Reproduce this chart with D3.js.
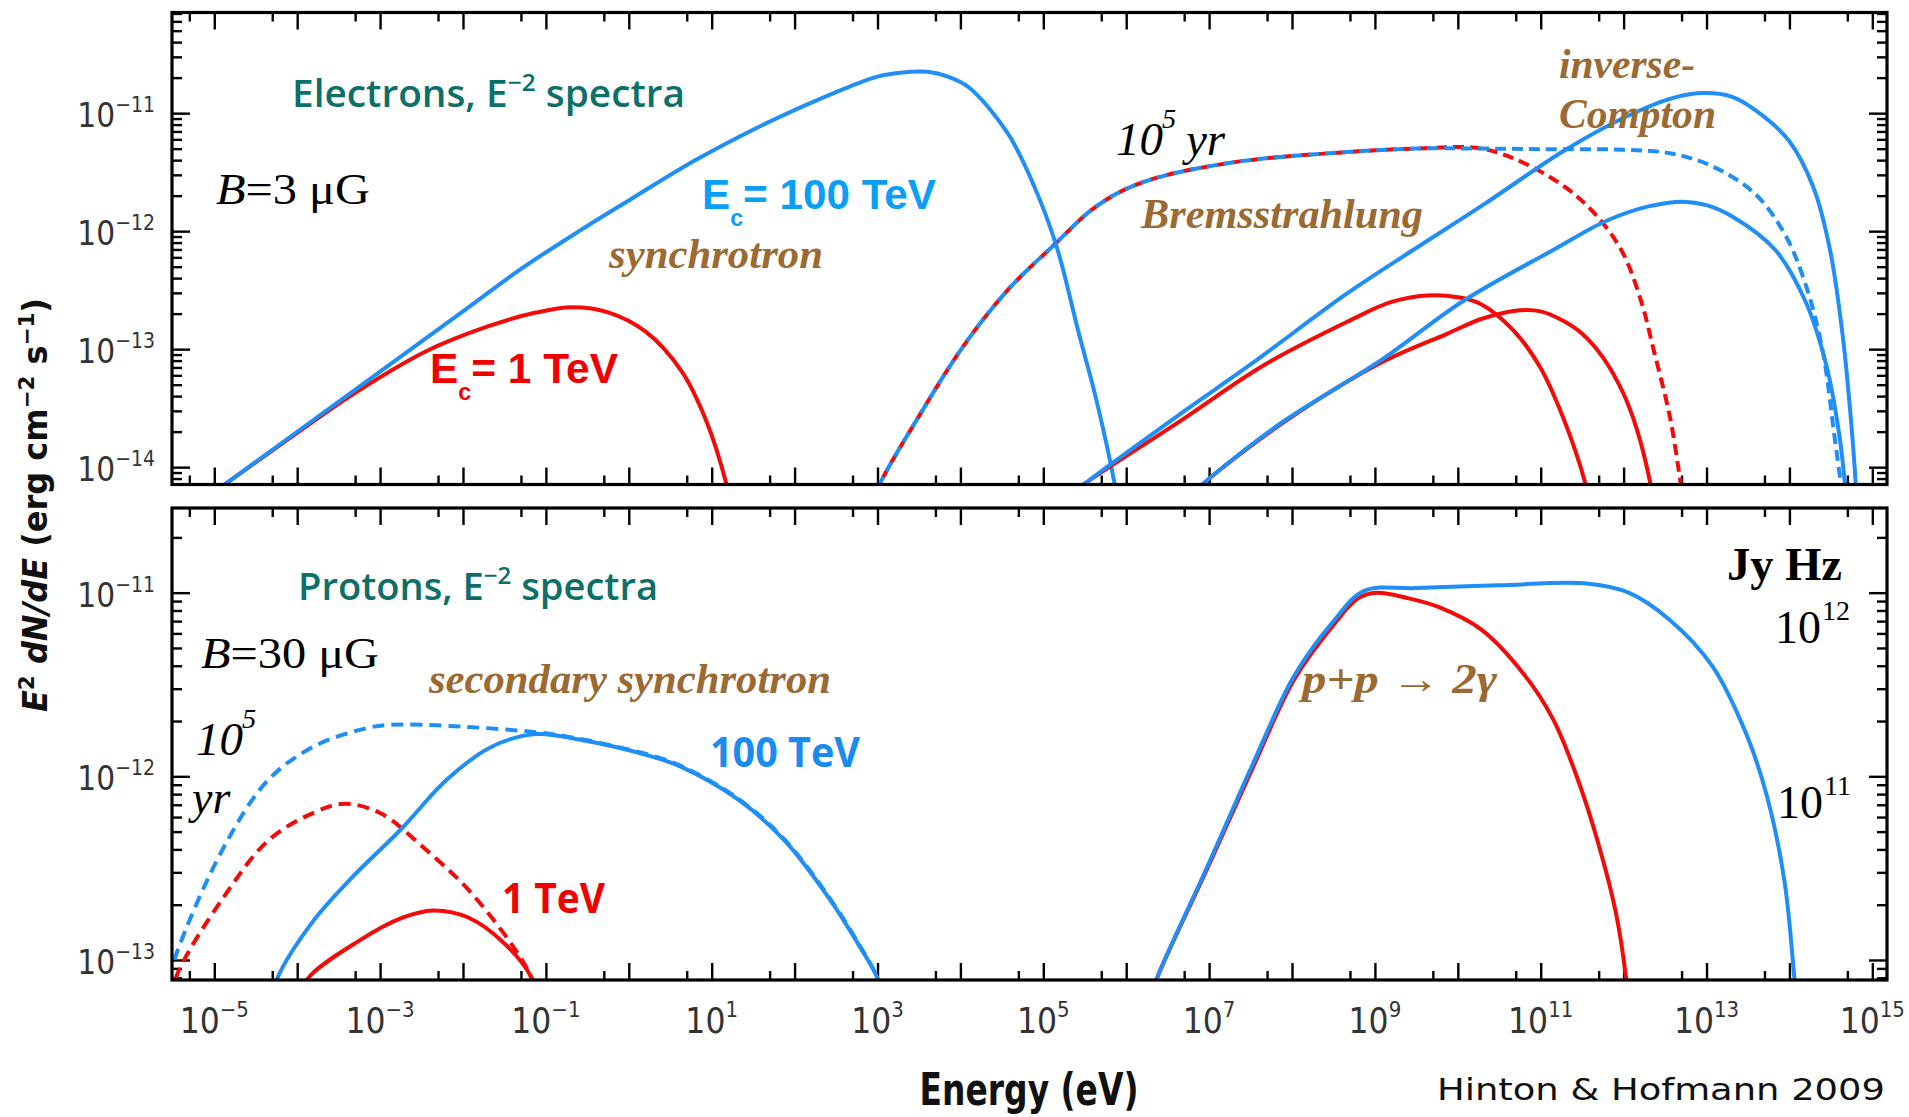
<!DOCTYPE html>
<html><head><meta charset="utf-8">
<script src="https://cdn.jsdelivr.net/npm/d3@7"></script>
<style>body{margin:0;background:#fff}</style>
</head><body>
<svg id="c" width="1909" height="1117" xmlns="http://www.w3.org/2000/svg"></svg>
<script>
// ---------- data: [log10(E / eV), log10(E^2 dN/dE / erg cm^-2 s^-1)] ----------
const xTickExponents = [-5,-3,-1,1,3,5,7,9,11,13,15];
const topYTickExponents = [-11,-12,-13,-14];
const botYTickExponents = [-11,-12,-13];
const rightTickLabels = ["12","11"];

// top panel: electrons
const elSync100TeV = [[-5.0,-14.21],[-4.86,-14.14],[-4.0,-13.70],[-3.0,-13.19],[-2.0,-12.68],[-1.3,-12.32],[-0.6,-12.0],[0.0,-11.74],[0.8,-11.40],[1.5,-11.14],[2.14,-10.93],[2.68,-10.77],[3.0,-10.69],[3.3,-10.655],[3.6,-10.65],[3.85,-10.69],[4.1,-10.78],[4.57,-11.17],[4.89,-11.62],[5.16,-12.13],[5.43,-12.87],[5.64,-13.43],[5.86,-14.14],[5.92,-14.4]];
const elSync1TeV = [[-5.0,-14.21],[-4.0,-13.71],[-3.3,-13.37],[-2.45,-13.02],[-1.71,-12.81],[-1.12,-12.69],[-0.68,-12.645],[-0.24,-12.69],[0.2,-12.85],[0.64,-13.19],[0.93,-13.6],[1.18,-14.15],[1.25,-14.4]];
const bremsShared = [[2.95,-14.3],[3.03,-14.14],[3.49,-13.58],[4.03,-12.98],[4.57,-12.50],[5.11,-12.13],[5.64,-11.79],[6.18,-11.59],[7.26,-11.42],[8.66,-11.33],[9.5,-11.30],[10.28,-11.30]];
const brems1TeVTail = [[10.79,-11.42],[11.3,-11.63],[11.65,-11.85],[11.98,-12.17],[12.21,-12.59],[12.36,-13.0],[12.56,-13.58],[12.68,-14.1],[12.72,-14.3]];
const brems100TeVTail = [[11.0,-11.305],[12.0,-11.31],[12.56,-11.34],[13.07,-11.45],[13.58,-11.68],[13.94,-12.02],[14.19,-12.44],[14.4,-13.01],[14.54,-13.72],[14.62,-14.14],[14.65,-14.3]];
const icA100TeV = [[5.4,-14.2],[5.5,-14.14],[6.65,-13.55],[7.5,-13.13],[8.66,-12.53],[9.46,-12.16],[10.3,-11.78],[11.3,-11.31],[12.06,-11.02],[12.6,-10.87],[12.97,-10.83],[13.3,-10.86],[13.58,-10.97],[13.99,-11.23],[14.29,-11.63],[14.49,-12.16],[14.64,-12.87],[14.74,-13.58],[14.80,-14.14],[14.82,-14.4]];
const icA1TeV = [[5.4,-14.2],[5.5,-14.14],[6.65,-13.61],[7.65,-13.14],[8.66,-12.77],[9.2,-12.60],[9.63,-12.545],[10.0,-12.56],[10.27,-12.615],[10.67,-12.84],[10.99,-13.15],[11.27,-13.58],[11.535,-14.13],[11.6,-14.35]];
const icB100TeV = [[6.85,-14.2],[6.93,-14.14],[7.86,-13.63],[9.06,-13.10],[10.07,-12.59],[11.15,-12.16],[11.8,-11.91],[12.3,-11.79],[12.72,-11.75],[13.0,-11.78],[13.32,-11.88],[13.83,-12.16],[14.19,-12.59],[14.45,-13.15],[14.60,-13.72],[14.67,-14.14],[14.7,-14.4]];
const icB1TeV = [[6.85,-14.2],[6.93,-14.14],[7.86,-13.64],[9.06,-13.12],[9.87,-12.87],[10.3,-12.74],[10.75,-12.67],[11.0,-12.68],[11.27,-12.76],[11.5,-12.87],[11.75,-13.07],[12.0,-13.38],[12.16,-13.68],[12.32,-14.13],[12.37,-14.35]];

// bottom panel: protons
const secSync100TeVOld = [[-5.6,-13.2],[-5.46,-12.97],[-4.89,-12.39],[-4.35,-12.02],[-3.81,-11.84],[-3.27,-11.75],[-2.9,-11.72],[-2.0,-11.73],[-1.12,-11.76],[-0.6,-11.795],[0.26,-11.885],[0.64,-11.945],[1.33,-12.125],[1.88,-12.345],[2.41,-12.655],[2.79,-12.925],[3.0,-13.1],[3.05,-13.2]];
const secSync100TeV = [[-4.35,-13.3],[-4.24,-13.1],[-3.81,-12.79],[-3.38,-12.57],[-2.73,-12.28],[-2.2,-12.02],[-1.66,-11.84],[-1.12,-11.77],[-0.6,-11.80],[0.26,-11.89],[0.64,-11.95],[1.33,-12.13],[1.88,-12.35],[2.41,-12.66],[2.79,-12.93],[3.0,-13.1],[3.05,-13.2]];
const secSync1TeVOld = [[-5.6,-13.3],[-5.43,-13.06],[-4.89,-12.66],[-4.35,-12.35],[-3.81,-12.2],[-3.43,-12.15],[-3.0,-12.2],[-2.47,-12.39],[-1.93,-12.62],[-1.39,-12.93],[-1.17,-13.1],[-1.1,-13.2]];
const secSync1TeV = [[-3.95,-13.2],[-3.87,-13.1],[-3.27,-12.9],[-2.73,-12.77],[-2.36,-12.73],[-1.93,-12.77],[-1.5,-12.91],[-1.17,-13.1],[-1.12,-13.2]];
const pp100TeV = [[6.3,-13.2],[6.37,-13.1],[6.99,-12.48],[7.53,-11.93],[8.03,-11.45],[8.51,-11.15],[8.87,-10.99],[9.5,-10.975],[10.5,-10.96],[11.55,-10.95],[12.06,-11.0],[12.56,-11.15],[13.07,-11.4],[13.48,-11.77],[13.73,-12.11],[13.94,-12.57],[14.06,-13.1],[14.09,-13.25]];
const pp1TeV = [[6.3,-13.2],[6.37,-13.1],[6.99,-12.49],[7.53,-11.95],[8.03,-11.47],[8.51,-11.17],[8.8,-11.03],[9.02,-11.0],[9.4,-11.03],[9.78,-11.08],[10.28,-11.2],[10.79,-11.44],[11.15,-11.69],[11.45,-12.02],[11.71,-12.39],[11.91,-12.75],[12.03,-13.1],[12.06,-13.25]];

// ---------- setup ----------
const BLUE = "#1f8ef7", RED = "#f50a0a";
const TEAL = "#0c6f69", BROWN = "#9b6a33";
const svg = d3.select("#c");
const L = 172, R = 1887;
const x = d3.scaleLog().domain([Math.pow(10,-5.51), Math.pow(10,15.177)]).range([L, R]);
const panels = [
  {id:"top", y: d3.scaleLog().domain([Math.pow(10,-14.147), Math.pow(10,-10.147)]).range([484.5, 12.5]), t:12.5, b:484.5},
  {id:"bot", y: d3.scaleLog().domain([Math.pow(10,-13.109), Math.pow(10,-10.539)]).range([980, 508]), t:508, b:980}
];

const inDom = (s, v) => { const d = s.domain(); return v >= d[0]*0.9999 && v <= d[1]*1.0001; };
const xMajor = d3.range(-5,16).map(e => Math.pow(10,e)).filter(v => inDom(x,v));
const xMinor = d3.range(-6,16).map(e => 5*Math.pow(10,e)).filter(v => inDom(x,v));

function styleAxis(g){
  g.select(".domain").remove();
  g.selectAll(".tick text").remove();
  g.selectAll(".tick line").attr("stroke","#000").attr("stroke-width",2.4);
}

panels.forEach(p => {
  const yMajor = d3.range(-16,-8).map(e => Math.pow(10,e)).filter(v => inDom(p.y,v));
  const yMinor = [];
  d3.range(-16,-8).forEach(e => { for (let m=2;m<=9;m++){ const v=m*Math.pow(10,e); if (inDom(p.y,v)) yMinor.push(v);} });
  const g = svg.append("g");
  g.append("g").attr("transform",`translate(0,${p.b})`).call(d3.axisBottom(x).tickValues(xMajor).tickSize(-17).tickFormat("")).call(styleAxis);
  g.append("g").attr("transform",`translate(0,${p.b})`).call(d3.axisBottom(x).tickValues(xMinor).tickSize(-9).tickFormat("")).call(styleAxis);
  g.append("g").attr("transform",`translate(0,${p.t})`).call(d3.axisTop(x).tickValues(xMajor).tickSize(-17).tickFormat("")).call(styleAxis);
  g.append("g").attr("transform",`translate(0,${p.t})`).call(d3.axisTop(x).tickValues(xMinor).tickSize(-9).tickFormat("")).call(styleAxis);
  g.append("g").attr("transform",`translate(${L},0)`).call(d3.axisLeft(p.y).tickValues(yMajor).tickSize(-18).tickFormat("")).call(styleAxis);
  g.append("g").attr("transform",`translate(${L},0)`).call(d3.axisLeft(p.y).tickValues(yMinor).tickSize(-10).tickFormat("")).call(styleAxis);
  g.append("g").attr("transform",`translate(${R},0)`).call(d3.axisRight(p.y).tickValues(yMajor).tickSize(-18).tickFormat("")).call(styleAxis);
  g.append("g").attr("transform",`translate(${R},0)`).call(d3.axisRight(p.y).tickValues(yMinor).tickSize(-10).tickFormat("")).call(styleAxis);
  svg.append("clipPath").attr("id","clip-"+p.id).append("rect")
    .attr("x",L).attr("y",p.t).attr("width",R-L).attr("height",p.b-p.t);
  p.curves = svg.append("g").attr("clip-path",`url(#clip-${p.id})`);
  p.line = d3.line().x(d => x(Math.pow(10,d[0]))).y(d => p.y(Math.pow(10,d[1]))).curve(d3.curveCatmullRom.alpha(0.5));
});

function draw(p, data, color, dash, offset){
  p.curves.append("path").attr("d", p.line(data)).attr("fill","none")
    .attr("stroke", color).attr("stroke-width", 4).attr("stroke-linejoin","round")
    .attr("stroke-dasharray", dash || null).attr("stroke-dashoffset", offset || 0);
}
const [P1, P2] = panels;
draw(P1, bremsShared.concat(brems1TeVTail), RED, "11,6", 8);
draw(P1, bremsShared.concat(brems100TeVTail), BLUE, "11,6", 0);
draw(P1, elSync1TeV, RED);
draw(P1, elSync100TeV, BLUE);
draw(P1, icA1TeV, RED);
draw(P1, icB1TeV, RED);
draw(P1, icB100TeV, BLUE);
draw(P1, icA100TeV, BLUE);
draw(P2, secSync1TeVOld, RED, "12,7", 0);
draw(P2, secSync100TeVOld, BLUE, "12,7", 0);
draw(P2, secSync1TeV, RED);
draw(P2, secSync100TeV, BLUE);
draw(P2, pp1TeV, RED);
draw(P2, pp100TeV, BLUE);

panels.forEach(p => svg.append("rect").attr("x",L).attr("y",p.t).attr("width",R-L).attr("height",p.b-p.t)
  .attr("fill","none").attr("stroke","#000").attr("stroke-width",3.2));

// ---------- tick labels ----------
const TICKFONT = "'Liberation Sans Narrow','DejaVu Sans Condensed','Arial Narrow',sans-serif";
const xl = svg.append("g").attr("font-family",TICKFONT).attr("fill","#333").attr("font-stretch","condensed");
xTickExponents.forEach(e => {
  const t = xl.append("text").attr("x", x(Math.pow(10,e))).attr("y",1033).attr("text-anchor","middle").attr("font-size",35);
  t.append("tspan").text("10");
  t.append("tspan").attr("dy",-16).attr("font-size",22).text(e < 0 ? "\u2212"+(-e) : String(e));
});
[[P1, topYTickExponents],[P2, botYTickExponents]].forEach(([p, exps]) => {
  exps.forEach(e => {
    const t = xl.append("text").attr("x",155).attr("y", p.y(Math.pow(10,e)) + 14).attr("text-anchor","end").attr("font-size",33);
    t.append("tspan").text("10");
    t.append("tspan").attr("dy",-15).attr("font-size",21).text("\u2212"+(-e));
  });
});

// ---------- axis titles ----------
svg.append("text").attr("x",1029).attr("y",1105).attr("text-anchor","middle")
  .attr("font-family",TICKFONT).attr("font-weight","bold").attr("font-size",44).attr("fill","#111")
  .attr("textLength",219).attr("lengthAdjust","spacingAndGlyphs").text("Energy (eV)");
svg.append("text").attr("x",1885).attr("y",1100).attr("text-anchor","end")
  .attr("font-family",TICKFONT).attr("font-size",31).attr("fill","#111")
  .attr("textLength",448).attr("lengthAdjust","spacingAndGlyphs").text("Hinton & Hofmann 2009");
const yt = svg.append("text").attr("transform","translate(47,505) rotate(-90)").attr("text-anchor","middle")
  .attr("font-family","'DejaVu Sans',Verdana,sans-serif").attr("font-weight","bold").attr("font-size",33).attr("fill","#111")
  .attr("textLength",414).attr("lengthAdjust","spacingAndGlyphs");
yt.append("tspan").attr("font-style","italic").text("E");
yt.append("tspan").attr("dy",-13).attr("font-size",22).text("2");
yt.append("tspan").attr("dy",13).attr("font-style","italic").text(" dN/dE");
yt.append("tspan").text(" (erg cm");
yt.append("tspan").attr("dy",-13).attr("font-size",22).text("\u22122");
yt.append("tspan").attr("dy",13).text(" s");
yt.append("tspan").attr("dy",-13).attr("font-size",22).text("\u22121");
yt.append("tspan").attr("dy",13).text(")");

// ---------- annotations ----------
const SANS = "'Open Sans','Noto Sans',sans-serif";
const SERIF = "'Liberation Serif','Times New Roman',serif";
const ARIAL = "'Liberation Sans',Arial,sans-serif";
function txt(xp, yp, opts){
  const t = svg.append("text").attr("x",xp).attr("y",yp);
  Object.entries(opts).forEach(([k,v]) => t.attr(k,v));
  return t;
}
function title(xp, yp, a, b, len){
  const t = txt(xp, yp, {"font-family":SANS,"font-weight":600,"font-size":38,fill:TEAL,textLength:len,lengthAdjust:"spacingAndGlyphs"});
  t.append("tspan").text(a);
  t.append("tspan").attr("dy",-16).attr("font-size",24).text("\u22122");
  t.append("tspan").attr("dy",16).text(b);
}
title(292, 107, "Electrons, E", " spectra", 393);
title(298, 600, "Protons, E", " spectra", 360);

function bField(xp, yp, v, len){
  const t = txt(xp, yp, {"font-family":SERIF,"font-size":44,fill:"#000",textLength:len,lengthAdjust:"spacingAndGlyphs"});
  t.append("tspan").attr("font-style","italic").text("B");
  t.append("tspan").text("="+v+" \u03bcG");
}
bField(216, 204, "3", 154);
bField(201, 668, "30", 178);

function brown(xp, yp, s, len, fs){
  txt(xp, yp, {"font-family":SERIF,"font-weight":"bold","font-style":"italic","font-size":fs||43,fill:BROWN,textLength:len,lengthAdjust:"spacingAndGlyphs"}).text(s);
}
brown(609, 268, "synchrotron", 214);
brown(1141, 228, "Bremsstrahlung", 282);
brown(1559, 78, "inverse-", 136);
brown(1559, 128, "Compton", 157);
brown(429, 693, "secondary synchrotron", 402);
brown(1302, 693, "p+p  \u2192 2\u03b3", 195, 42);

function ec(xp, yp, val, color, len){
  const t = txt(xp, yp, {"font-family":ARIAL,"font-weight":"bold","font-size":42,fill:color,textLength:len,lengthAdjust:"spacingAndGlyphs"});
  t.append("tspan").text("E");
  t.append("tspan").attr("dy",17).attr("font-size",23).text("c");
  t.append("tspan").attr("dy",-17).text("= "+val+" TeV");
}
ec(702, 209, "100", "#0a9ef4", 234);
ec(430, 383, "1", "#f00000", 188);
txt(710, 767, {"font-family":SANS,"font-weight":"bold","font-size":42,fill:"#1a8cf0",textLength:150,lengthAdjust:"spacingAndGlyphs"}).text("100 TeV");
txt(502, 913, {"font-family":SANS,"font-weight":"bold","font-size":42,fill:"#f00000",textLength:103,lengthAdjust:"spacingAndGlyphs"}).text("1 TeV");

function pow10(xp, yp, ex, fs){
  txt(xp, yp, {"font-family":SERIF,"font-style":"italic","font-size":fs,fill:"#000"}).text("10");
  txt(xp + fs*0.98, yp - fs*0.58, {"font-family":SERIF,"font-style":"italic","font-size":fs*0.6,fill:"#000"}).text(ex);
}
pow10(1116, 155, "5", 47);
txt(1186, 155, {"font-family":SERIF,"font-style":"italic","font-size":47,fill:"#000"}).text("yr");
pow10(196, 755, "5", 47);
txt(192, 813, {"font-family":SERIF,"font-style":"italic","font-size":46,fill:"#000"}).text("yr");

txt(1727, 580, {"font-family":SERIF,"font-weight":"bold","font-size":46,fill:"#000",textLength:115,lengthAdjust:"spacingAndGlyphs"}).text("Jy Hz");
[[rightTickLabels[0], 1775, 643],[rightTickLabels[1], 1777, 818]].forEach(([s, xp, yp]) => {
  txt(xp, yp, {"font-family":SERIF,"font-size":46,fill:"#000"}).text("10");
  txt(xp + 47, yp - 23, {"font-family":SERIF,"font-size":28,fill:"#000"}).text(s);
});
</script>
</body></html>
